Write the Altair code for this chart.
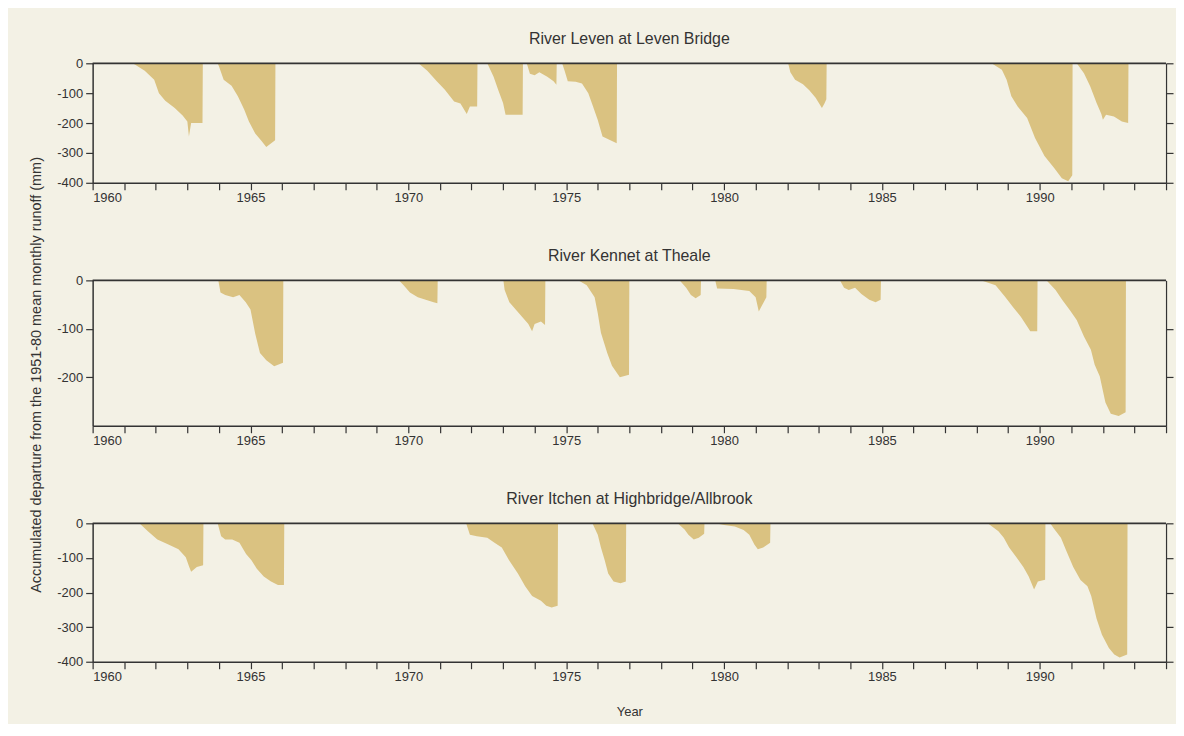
import altair as alt
import pandas as pd

# ---- data ----
LEVEN_YEAR = [1961.26, 1961.35, 1961.65, 1961.95, 1962.1, 1962.3, 1962.6, 1962.85, 1963.0, 1963.05, 1963.12, 1963.48, 1963.49,
              1963.96, 1964.0, 1964.15, 1964.4, 1964.6, 1964.8, 1964.95, 1965.15, 1965.35, 1965.5, 1965.78, 1965.79,
              1970.32, 1970.6, 1970.9, 1971.15, 1971.45, 1971.65, 1971.85, 1971.95, 1972.18, 1972.19,
              1972.5, 1972.7, 1972.85, 1973.0, 1973.08, 1973.62, 1973.63,
              1973.75, 1973.85, 1974.0, 1974.15, 1974.4, 1974.6, 1974.69, 1974.7,
              1974.87, 1974.95, 1975.05, 1975.3, 1975.5, 1975.7, 1975.85, 1976.0, 1976.15, 1976.35, 1976.6, 1976.61,
              1982.03, 1982.1, 1982.25, 1982.5, 1982.7, 1982.9, 1983.1, 1983.18, 1983.24, 1983.25,
              1988.47, 1988.8, 1988.95, 1989.1, 1989.3, 1989.6, 1989.85, 1990.15, 1990.45, 1990.7, 1990.9, 1991.03, 1991.04,
              1991.17, 1991.4, 1991.6, 1991.8, 1991.95, 1992.0, 1992.1, 1992.35, 1992.6, 1992.8, 1992.81]
LEVEN_MM = [0, -5, -25, -55, -100, -125, -150, -175, -195, -245, -200, -200, 0,
            0, -10, -55, -75, -110, -155, -195, -235, -260, -280, -258, 0,
            0, -25, -60, -88, -128, -135, -170, -145, -145, 0,
            0, -45, -90, -133, -172, -172, 0,
            0, -35, -40, -30, -45, -60, -72, 0,
            0, -25, -60, -62, -68, -100, -145, -190, -245, -255, -268, 0,
            0, -30, -55, -70, -90, -115, -150, -135, -120, 0,
            0, -22, -55, -110, -145, -183, -250, -310, -350, -385, -395, -375, 0,
            0, -33, -78, -133, -170, -189, -172, -178, -195, -200, 0]

KENNET_YEAR = [1963.98, 1964.05, 1964.2, 1964.45, 1964.65, 1964.85, 1965.0, 1965.15, 1965.3, 1965.5, 1965.75, 1966.03, 1966.04,
               1969.7, 1969.85, 1970.05, 1970.3, 1970.55, 1970.8, 1970.92, 1970.93,
               1973.01, 1973.05, 1973.2, 1973.4, 1973.6, 1973.8, 1973.92, 1974.0, 1974.2, 1974.33, 1974.34,
               1975.38, 1975.65, 1975.9, 1976.0, 1976.1, 1976.3, 1976.45, 1976.7, 1976.99, 1977.0,
               1978.59, 1978.8, 1978.95, 1979.1, 1979.26, 1979.27,
               1979.72, 1979.78, 1980.3, 1980.8, 1981.0, 1981.1, 1981.2, 1981.34, 1981.35,
               1983.67, 1983.8, 1983.95, 1984.15, 1984.35, 1984.6, 1984.8, 1984.96, 1984.97,
               1988.13, 1988.6, 1988.9, 1989.15, 1989.4, 1989.7, 1989.92, 1989.93,
               1990.21, 1990.5, 1990.72, 1990.95, 1991.17, 1991.4, 1991.62, 1991.74, 1991.9, 1992.08, 1992.25, 1992.5, 1992.72, 1992.73]
KENNET_MM = [0, -25, -30, -35, -30, -45, -60, -110, -150, -165, -177, -170, 0,
             0, -10, -25, -35, -40, -45, -47, 0,
             0, -20, -45, -60, -75, -90, -105, -90, -85, -92, 0,
             0, -10, -35, -68, -108, -150, -176, -200, -195, 0,
             0, -15, -30, -37, -30, 0,
             0, -17, -18, -22, -35, -64, -52, -35, 0,
             0, -15, -20, -15, -28, -40, -45, -40, 0,
             0, -10, -34, -55, -75, -105, -105, 0,
             0, -20, -41, -61, -82, -116, -143, -174, -198, -252, -275, -280, -272, 0]

ITCHEN_YEAR = [1961.48, 1961.75, 1962.05, 1962.4, 1962.72, 1962.95, 1963.06, 1963.12, 1963.3, 1963.5, 1963.51,
               1963.96, 1964.07, 1964.2, 1964.42, 1964.65, 1964.86, 1965.03, 1965.2, 1965.42, 1965.65, 1965.87, 1966.06, 1966.07,
               1971.83, 1971.95, 1972.17, 1972.5, 1972.73, 1972.96, 1973.19, 1973.47, 1973.7, 1973.92, 1974.2, 1974.37, 1974.54, 1974.73, 1974.74,
               1975.83, 1976.0, 1976.1, 1976.22, 1976.33, 1976.5, 1976.72, 1976.89, 1976.9,
               1978.53, 1978.75, 1978.87, 1979.04, 1979.2, 1979.37, 1979.38,
               1979.72, 1980.0, 1980.34, 1980.62, 1980.8, 1980.96, 1981.07, 1981.24, 1981.46, 1981.47,
               1988.35, 1988.69, 1988.86, 1989.03, 1989.26, 1989.48, 1989.65, 1989.82, 1989.94, 1990.17, 1990.18,
               1990.33, 1990.44, 1990.67, 1990.84, 1991.06, 1991.29, 1991.51, 1991.63, 1991.8, 1991.97, 1992.19, 1992.36, 1992.53, 1992.77, 1992.78]
ITCHEN_MM = [0, -23, -47, -61, -75, -98, -126, -140, -126, -121, 0,
             0, -37, -47, -47, -56, -89, -107, -131, -154, -168, -178, -178, 0,
             0, -33, -37, -42, -56, -70, -107, -145, -182, -210, -224, -238, -243, -238, 0,
             0, -33, -70, -107, -145, -168, -173, -168, 0,
             0, -18, -33, -47, -42, -30, 0,
             0, -5, -9, -19, -33, -61, -75, -70, -56, 0,
             0, -23, -42, -70, -98, -126, -154, -191, -168, -163, 0,
             0, -14, -42, -79, -126, -164, -182, -210, -276, -322, -360, -379, -388, -379, 0]

TITLES = ["River Leven at Leven Bridge", "River Kennet at Theale", "River Itchen at Highbridge/Allbrook"]
Y_TITLE = "Accumulated departure from the 1951-80 mean monthly runoff (mm)"
X_TITLE = "Year"
YEAR_TICKS = list(range(1960, 1995))

FILL = "#dac281"
BG = "#f3f1e5"
INK = "#333333"
FONT = "Liberation Sans"
PANEL_W = 1078


def panel(title, years, mm, ymin, left_ticks, right_ticks, height, x_title=None):
    df = pd.DataFrame({"year": years, "mm": mm})
    xaxis_kw = dict(values=YEAR_TICKS,
                    labelExpr="datum.value % 5 == 0 ? '' + datum.value : ''",
                    tickSize=7, tickWidth=1.2, labelPadding=2, domainColor=INK, domainWidth=1.5,
                    tickColor=INK, labelFontSize=13, labelColor=INK, labelFont=FONT, grid=False)
    if x_title:
        xaxis_kw.update(title=x_title, titleFont=FONT, titleFontSize=13, titleFontWeight="normal",
                        titleColor=INK, titlePadding=22)
    else:
        xaxis_kw.update(title="")
    yscale = alt.Scale(domain=[ymin, 0], nice=False, zero=False)
    area = alt.Chart(df).mark_area(color=FILL, opacity=1).encode(
        x=alt.X("year:Q", scale=alt.Scale(domain=[1960, 1994], nice=False, zero=False),
                axis=alt.Axis(**xaxis_kw)),
        y=alt.Y("mm:Q", scale=yscale,
                axis=alt.Axis(orient="left", values=left_ticks, labelExpr="'' + datum.value",
                              tickSize=7, tickWidth=1.2, labelPadding=3, domainColor=INK, domainWidth=1.5,
                              tickColor=INK, labelFontSize=13, labelColor=INK, labelFont=FONT,
                              grid=False, title="", minExtent=34, maxExtent=34)),
    )
    top = alt.Chart(pd.DataFrame({"mm": [0]})).mark_rule(color=INK, strokeWidth=1.8).encode(
        y=alt.Y("mm:Q", scale=yscale,
                axis=alt.Axis(orient="right", values=right_ticks, labels=False, tickSize=7, tickWidth=1.2,
                              domainColor=INK, domainWidth=1.2, tickColor=INK, grid=False, title="",
                              minExtent=8, maxExtent=8)),
    )
    return alt.layer(area, top).resolve_axis(y="independent").properties(
        width=PANEL_W, height=height,
        title=alt.TitleParams(title, font=FONT, fontSize=16, fontWeight="normal", color=INK, offset=10),
    )


p1 = panel(TITLES[0], LEVEN_YEAR, LEVEN_MM, -400, [0, -100, -200, -300, -400], [0, -100, -200, -300, -400], 120)
p2 = panel(TITLES[1], KENNET_YEAR, KENNET_MM, -300, [0, -100, -200], [-100, -200], 146)
p3 = panel(TITLES[2], ITCHEN_YEAR, ITCHEN_MM, -400, [0, -100, -200, -300, -400], [0, -100, -200, -300, -400], 139,
           x_title=X_TITLE)

chart = alt.vconcat(p1, p2, p3, spacing=44).properties(
    title=alt.TitleParams(Y_TITLE, orient="left", anchor="middle", font=FONT, fontSize=14.5,
                          fontWeight="normal", color=INK, offset=12),
    background=BG,
    padding={"left": 21, "top": 22, "right": 2, "bottom": 4},
).configure_view(strokeWidth=0)

chart.save("out.html", embed_options={"renderer": "svg", "actions": False})
